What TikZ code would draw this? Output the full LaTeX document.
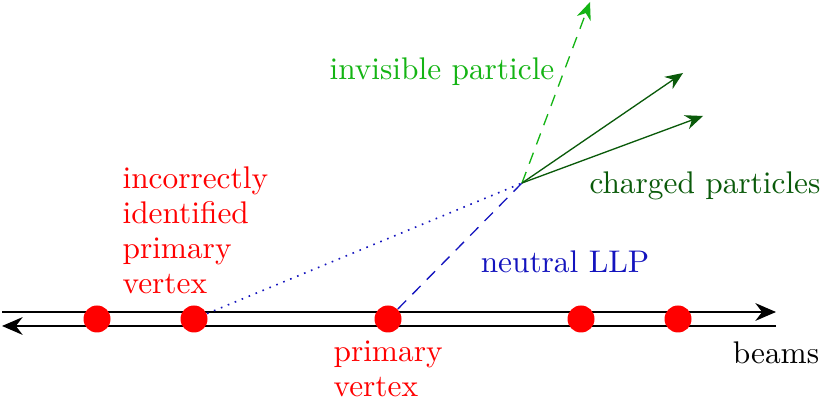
\documentclass[tikz,border=0pt]{standalone}
\usetikzlibrary{arrows.meta}
\begin{document}
\begin{tikzpicture}[x=0.34pt,y=-0.34pt,
  beam/.style={line width=0.8pt,-{Stealth[length=7pt,width=6pt]}},
  pv/.style={circle,fill=red,inner sep=0pt,minimum size=27*0.34pt},
  trk/.style={line width=0.45pt,-{Stealth[length=6pt,width=5pt]}},
  lbl/.style={inner sep=0pt,font=\fontsize{10.65}{11.9}\selectfont}]
\useasboundingbox (0,0) rectangle (831,414);
\definecolor{invis}{RGB}{20,180,20}
\definecolor{charged}{RGB}{10,90,10}
\definecolor{llp}{RGB}{20,20,190}
% beams
\coordinate (b1s) at (2,312);
\coordinate (b1e) at (776,312);
\coordinate (b2s) at (776,326);
\coordinate (b2e) at (2,326);
\draw[beam] (b1s) -- (b1e);
\draw[beam] (b2s) -- (b2e);
% vertices
\node[pv] (v1) at (97,319) {};
\node[pv] (v2) at (194,319) {};
\node[pv] (v3) at (388,319) {};
\node[pv] (v4) at (581,319) {};
\node[pv] (v5) at (678,319) {};
% decay vertex and tracks
\coordinate (dv) at (522,183);
\coordinate (inv) at (590,2);
\coordinate (ch1) at (683,73);
\coordinate (ch2) at (703,116);
\draw[llp,line width=0.45pt,dashed,dash pattern=on 4pt off 3pt] (v3) -- (dv);
\draw[llp,line width=0.55pt,dotted] (v2) -- (dv);
\draw[trk,invis,dashed,dash pattern=on 4pt off 3pt] (dv) -- (inv);
\draw[trk,charged] (dv) -- (ch1);
\draw[trk,charged] (dv) -- (ch2);
% labels
\node[lbl,text=invis] (tinv) at (442,72) {invisible particle};
\node[lbl,text=charged] (tch) at (705,186) {charged particles};
\node[lbl,text=llp] (tllp) at (565,262) {neutral LLP};
\node[lbl,text=red,align=left,anchor=west] (tinc) at (122,230) {incorrectly\\identified\\primary\\vertex};
\node[lbl,text=red,align=left,anchor=west] (tpv) at (333,369) {primary\\vertex};
\node[lbl] (tbeam) at (776,353) {beams};
\end{tikzpicture}
\end{document}
